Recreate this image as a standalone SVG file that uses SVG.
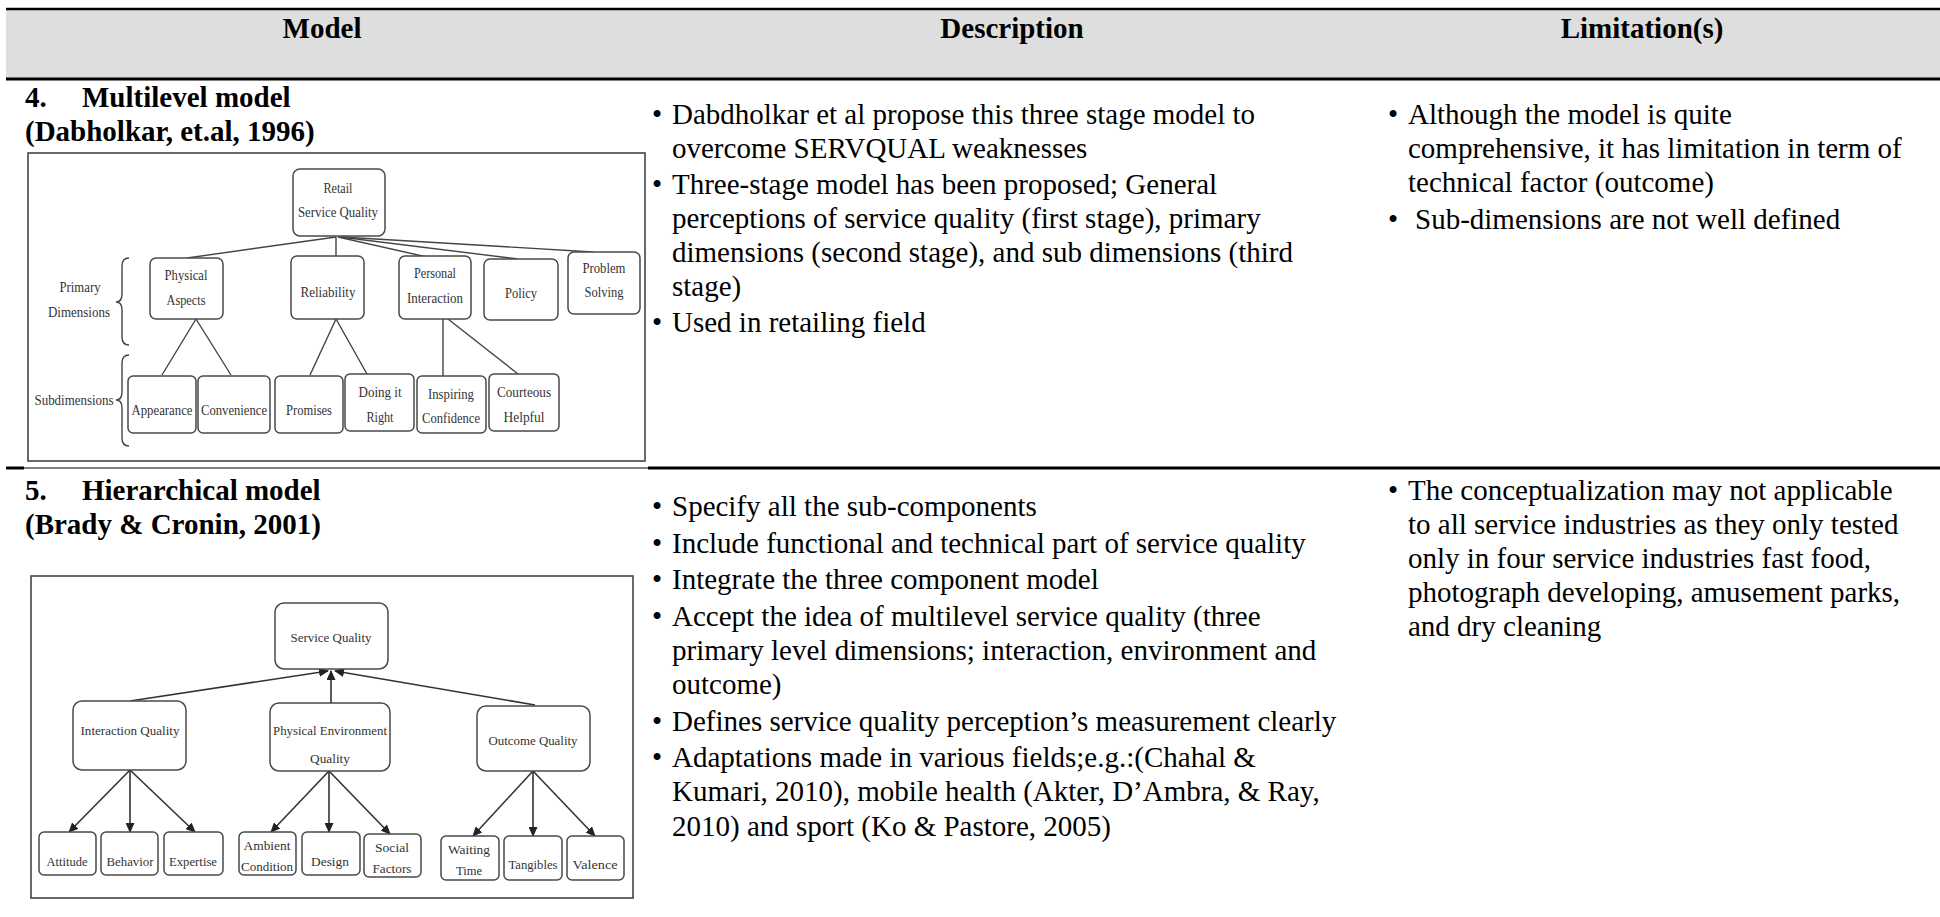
<svg xmlns="http://www.w3.org/2000/svg" width="1940" height="917" viewBox="0 0 1940 917">
<style>
.t{font-family:"Liberation Serif","Times New Roman",serif;font-size:29px;fill:#000}
.b{font-weight:bold}
.m{text-anchor:middle}
.n rect{fill:#fff;stroke:#4a4a4a;stroke-width:1.5}
.l{font-family:"Liberation Serif","Times New Roman",serif;font-size:14px;fill:#333;text-anchor:middle}
.s{font-size:13px}
.c{stroke:#444;stroke-width:1.4;fill:none}
.a{stroke:#333;stroke-width:1.6;fill:none;marker-end:url(#ah)}
.fr{fill:#fff;stroke:#444;stroke-width:1.6}
</style>
<defs>
<marker id="ah" markerUnits="userSpaceOnUse" markerWidth="10" markerHeight="9" refX="9" refY="4.5" orient="auto">
<path d="M0,0 L10,4.5 L0,9 z" fill="#222"/>
</marker>
</defs>
<rect width="1940" height="917" fill="#fff"/>
<g id="table">
<rect x="6" y="9" width="1934" height="70" fill="#dedede"/>
<line x1="6" y1="9" x2="1940" y2="9" stroke="#000" stroke-width="2.5"/>
<line x1="6" y1="79" x2="1940" y2="79" stroke="#000" stroke-width="3"/>
<line x1="6" y1="468" x2="24" y2="468" stroke="#000" stroke-width="3"/>
<line x1="24" y1="468" x2="648" y2="468" stroke="#000" stroke-width="1.2"/>
<line x1="648" y1="468" x2="1940" y2="468" stroke="#000" stroke-width="3"/>
<text class="t b m" x="322" y="38">Model</text>
<text class="t b m" x="1012" y="38">Description</text>
<text class="t b m" x="1642" y="38">Limitation(s)</text>
</g>
<g id="row1-model">
<text class="t b" x="25" y="107">4.</text>
<text class="t b" x="82" y="107">Multilevel model</text>
<text class="t b" x="25" y="141">(Dabholkar, et.al, 1996)</text>
</g>
<g id="row1-description" class="t">
<text x="652" y="124">•</text><text x="672" y="124">Dabdholkar et al propose this three stage model to</text>
<text x="672" y="158">overcome SERVQUAL weaknesses</text>
<text x="652" y="194">•</text><text x="672" y="194">Three-stage model has been proposed; General</text>
<text x="672" y="228">perceptions of service quality (first stage), primary</text>
<text x="672" y="262">dimensions (second stage), and sub dimensions (third</text>
<text x="672" y="296">stage)</text>
<text x="652" y="332">•</text><text x="672" y="332">Used in retailing field</text>
</g>
<g id="row1-limitations" class="t">
<text x="1388" y="124">•</text><text x="1408" y="124">Although the model is quite</text>
<text x="1408" y="158">comprehensive, it has limitation in term of</text>
<text x="1408" y="192">technical factor (outcome)</text>
<text x="1388" y="229">•</text><text x="1415" y="229">Sub-dimensions are not well defined</text>
</g>
<g id="row2-model">
<text class="t b" x="25" y="500">5.</text>
<text class="t b" x="82" y="500">Hierarchical model</text>
<text class="t b" x="25" y="534">(Brady &amp; Cronin, 2001)</text>
</g>
<g id="row2-description" class="t">
<text x="652" y="516">•</text><text x="672" y="516">Specify all the sub-components</text>
<text x="652" y="553">•</text><text x="672" y="553">Include functional and technical part of service quality</text>
<text x="652" y="589">•</text><text x="672" y="589">Integrate the three component model</text>
<text x="652" y="626">•</text><text x="672" y="626">Accept the idea of multilevel service quality (three</text>
<text x="672" y="660">primary level dimensions; interaction, environment and</text>
<text x="672" y="694">outcome)</text>
<text x="652" y="731">•</text><text x="672" y="731">Defines service quality perception’s measurement clearly</text>
<text x="652" y="767">•</text><text x="672" y="767">Adaptations made in various fields;e.g.:(Chahal &amp;</text>
<text x="672" y="801">Kumari, 2010), mobile health (Akter, D’Ambra, &amp; Ray,</text>
<text x="672" y="836">2010) and sport (Ko &amp; Pastore, 2005)</text>
</g>
<g id="row2-limitations" class="t">
<text x="1388" y="500">•</text><text x="1408" y="500">The conceptualization may not applicable</text>
<text x="1408" y="534">to all service industries as they only tested</text>
<text x="1408" y="568">only in four service industries fast food,</text>
<text x="1408" y="602">photograph developing, amusement parks,</text>
<text x="1408" y="636">and dry cleaning</text>
</g>

<rect id="frame1" class="fr" x="28" y="153" width="617" height="308"/>
<g id="d1-connectors">
<path class="c" d="M336,237 L187,258"/>
<path class="c" d="M336,237 L336,256"/>
<path class="c" d="M338,237 L427,257"/>
<path class="c" d="M340,237 L518,259"/>
<path class="c" d="M342,237 L593,252"/>
<path class="c" d="M162,375 L196,319 L231,375"/>
<path class="c" d="M310,375 L336,319 L367,374"/>
<path class="c" d="M443,318 L443,376"/>
<path class="c" d="M448,319 L518,374"/>
<path class="c" d="M129,258 Q122,258 122,266 L122,294 Q122,302 116,302 Q122,302 122,310 L122,337 Q122,345 129,345"/>
<path class="c" d="M129,355 Q122,355 122,363 L122,392 Q122,400 116,400 Q122,400 122,408 L122,438 Q122,446 129,446"/>
</g>
<g id="d1-retail" class="n"><rect x="293" y="169" width="92" height="67" rx="7"/><text class="l" x="338" y="193" textLength="29" lengthAdjust="spacingAndGlyphs">Retail</text><text class="l" x="338" y="217" textLength="80" lengthAdjust="spacingAndGlyphs">Service Quality</text></g>
<g id="d1-physical" class="n"><rect x="150" y="258" width="73" height="61" rx="6"/><text class="l" x="186" y="280" textLength="43" lengthAdjust="spacingAndGlyphs">Physical</text><text class="l" x="186" y="305" textLength="39" lengthAdjust="spacingAndGlyphs">Aspects</text></g>
<g id="d1-reliability" class="n"><rect x="291" y="256" width="73" height="63" rx="6"/><text class="l" x="328" y="297" textLength="55" lengthAdjust="spacingAndGlyphs">Reliability</text></g>
<g id="d1-personal" class="n"><rect x="399" y="256" width="72" height="63" rx="6"/><text class="l" x="435" y="278" textLength="42" lengthAdjust="spacingAndGlyphs">Personal</text><text class="l" x="435" y="303" textLength="56" lengthAdjust="spacingAndGlyphs">Interaction</text></g>
<g id="d1-policy" class="n"><rect x="484" y="259" width="74" height="61" rx="6"/><text class="l" x="521" y="298" textLength="32" lengthAdjust="spacingAndGlyphs">Policy</text></g>
<g id="d1-problem" class="n"><rect x="568" y="252" width="72" height="62" rx="6"/><text class="l" x="604" y="273" textLength="43" lengthAdjust="spacingAndGlyphs">Problem</text><text class="l" x="604" y="297" textLength="39" lengthAdjust="spacingAndGlyphs">Solving</text></g>
<g id="d1-appearance" class="n"><rect x="128" y="376" width="68" height="57" rx="5"/><text class="l" x="162" y="415" textLength="61" lengthAdjust="spacingAndGlyphs">Appearance</text></g>
<g id="d1-convenience" class="n"><rect x="198" y="376" width="72" height="57" rx="5"/><text class="l" x="234" y="415" textLength="66" lengthAdjust="spacingAndGlyphs">Convenience</text></g>
<g id="d1-promises" class="n"><rect x="275" y="376" width="68" height="57" rx="5"/><text class="l" x="309" y="415" textLength="46" lengthAdjust="spacingAndGlyphs">Promises</text></g>
<g id="d1-doing" class="n"><rect x="345" y="374" width="69" height="57" rx="5"/><text class="l" x="380" y="397" textLength="43" lengthAdjust="spacingAndGlyphs">Doing it</text><text class="l" x="380" y="422" textLength="27" lengthAdjust="spacingAndGlyphs">Right</text></g>
<g id="d1-inspiring" class="n"><rect x="417" y="376" width="69" height="57" rx="5"/><text class="l" x="451" y="399" textLength="46" lengthAdjust="spacingAndGlyphs">Inspiring</text><text class="l" x="451" y="423" textLength="58" lengthAdjust="spacingAndGlyphs">Confidence</text></g>
<g id="d1-courteous" class="n"><rect x="489" y="374" width="70" height="57" rx="5"/><text class="l" x="524" y="397" textLength="54" lengthAdjust="spacingAndGlyphs">Courteous</text><text class="l" x="524" y="422" textLength="41" lengthAdjust="spacingAndGlyphs">Helpful</text></g>
<g id="d1-primary-label"><text class="l" x="80" y="292" textLength="41" lengthAdjust="spacingAndGlyphs">Primary</text><text class="l" x="79" y="317" textLength="62" lengthAdjust="spacingAndGlyphs">Dimensions</text></g>
<g id="d1-sub-label"><text class="l" x="74" y="405" textLength="79" lengthAdjust="spacingAndGlyphs">Subdimensions</text></g>

<rect id="frame2" class="fr" x="31" y="576" width="602" height="322"/>
<g id="d2-connectors">
<path class="a" d="M130,701 L328,671"/>
<path class="a" d="M331,703 L331,671"/>
<path class="a" d="M535,705 L335,671"/>
<path class="a" d="M130,770 L69,832"/>
<path class="a" d="M130,770 L130,832"/>
<path class="a" d="M130,770 L195,832"/>
<path class="a" d="M329,771 L271,832"/>
<path class="a" d="M329,771 L329,832"/>
<path class="a" d="M329,771 L390,834"/>
<path class="a" d="M533,771 L473,836"/>
<path class="a" d="M533,771 L533,836"/>
<path class="a" d="M533,771 L595,836"/>
</g>
<g id="d2-sq" class="n"><rect x="275" y="603" width="113" height="66" rx="9"/><text class="l s" x="331" y="642" textLength="81" lengthAdjust="spacingAndGlyphs">Service Quality</text></g>
<g id="d2-iq" class="n"><rect x="73" y="701" width="113" height="69" rx="9"/><text class="l s" x="130" y="735" textLength="99" lengthAdjust="spacingAndGlyphs">Interaction Quality</text></g>
<g id="d2-peq" class="n"><rect x="270" y="703" width="120" height="68" rx="9"/><text class="l s" x="330" y="735" textLength="114" lengthAdjust="spacingAndGlyphs">Physical Environment</text><text class="l s" x="330" y="763" textLength="40" lengthAdjust="spacingAndGlyphs">Quality</text></g>
<g id="d2-oq" class="n"><rect x="477" y="706" width="113" height="65" rx="9"/><text class="l s" x="533" y="745" textLength="89" lengthAdjust="spacingAndGlyphs">Outcome Quality</text></g>
<g id="d2-attitude" class="n"><rect x="39" y="832" width="57" height="43" rx="5"/><text class="l s" x="67" y="866" textLength="41" lengthAdjust="spacingAndGlyphs">Attitude</text></g>
<g id="d2-behavior" class="n"><rect x="101" y="832" width="57" height="43" rx="5"/><text class="l s" x="130" y="866" textLength="47" lengthAdjust="spacingAndGlyphs">Behavior</text></g>
<g id="d2-expertise" class="n"><rect x="164" y="832" width="59" height="43" rx="5"/><text class="l s" x="193" y="866" textLength="48" lengthAdjust="spacingAndGlyphs">Expertise</text></g>
<g id="d2-ambient" class="n"><rect x="239" y="832" width="57" height="43" rx="5"/><text class="l s" x="267" y="850" textLength="47" lengthAdjust="spacingAndGlyphs">Ambient</text><text class="l s" x="267" y="871" textLength="52" lengthAdjust="spacingAndGlyphs">Condition</text></g>
<g id="d2-design" class="n"><rect x="302" y="832" width="58" height="43" rx="5"/><text class="l s" x="330" y="866" textLength="38" lengthAdjust="spacingAndGlyphs">Design</text></g>
<g id="d2-social" class="n"><rect x="364" y="834" width="57" height="43" rx="5"/><text class="l s" x="392" y="852" textLength="34" lengthAdjust="spacingAndGlyphs">Social</text><text class="l s" x="392" y="873" textLength="39" lengthAdjust="spacingAndGlyphs">Factors</text></g>
<g id="d2-waiting" class="n"><rect x="441" y="836" width="58" height="44" rx="5"/><text class="l s" x="469" y="854" textLength="42" lengthAdjust="spacingAndGlyphs">Waiting</text><text class="l s" x="469" y="875" textLength="26" lengthAdjust="spacingAndGlyphs">Time</text></g>
<g id="d2-tangibles" class="n"><rect x="504" y="836" width="58" height="44" rx="5"/><text class="l s" x="533" y="869" textLength="49" lengthAdjust="spacingAndGlyphs">Tangibles</text></g>
<g id="d2-valence" class="n"><rect x="567" y="836" width="57" height="44" rx="5"/><text class="l s" x="595" y="869" textLength="45" lengthAdjust="spacingAndGlyphs">Valence</text></g>
</svg>
